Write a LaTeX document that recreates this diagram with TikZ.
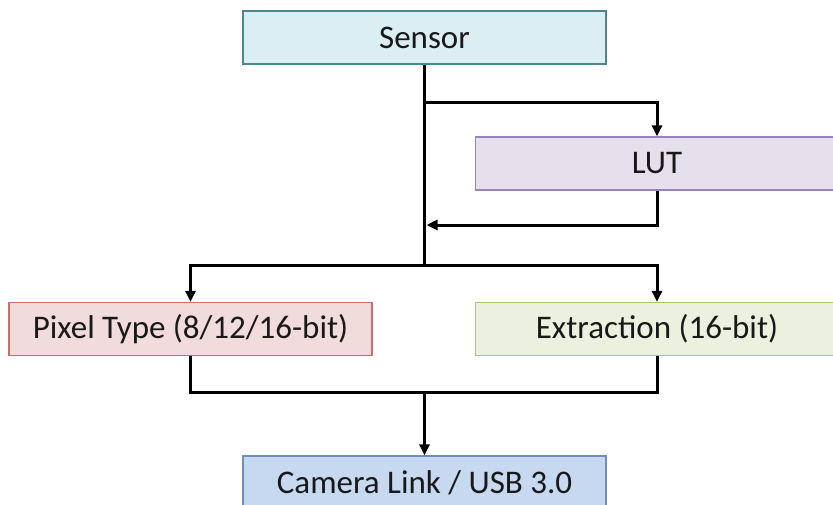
\documentclass[tikz,border=0pt]{standalone}
\usepackage{fontspec}
\setmainfont{Carlito}
\usetikzlibrary{arrows.meta}
\definecolor{senF}{HTML}{DAEEF3}\definecolor{senD}{HTML}{4F8494}
\definecolor{lutF}{HTML}{E5E0EC}\definecolor{lutD}{HTML}{9A83B8}
\definecolor{pixF}{HTML}{F2DCDB}\definecolor{pixD}{HTML}{CF6A67}
\definecolor{extF}{HTML}{EBF1DE}\definecolor{extD}{HTML}{A9C77A}
\definecolor{camF}{HTML}{C6D9F1}\definecolor{camD}{HTML}{6F8FB8}
\tikzset{
  blk/.style={draw, line width=1.2pt, minimum width=363pt, minimum height=53pt, inner sep=0pt,
    font=\fontsize{33}{38}\selectfont, text=black!90},
  conn/.style={line width=3pt, line join=miter},
  arr/.style={conn, -{Triangle[length=11pt,width=10pt]}}
}
\begin{document}
\begin{tikzpicture}[x=1pt,y=-1pt]
\path[use as bounding box, clip] (0,0) rectangle (833,504);
\fill[white] (0,0) rectangle (833,504);
\node[blk, fill=senF, draw=senD] (sensor) at (424.5,37.5) {Sensor};
\node[blk, fill=lutF, draw=lutD] (lut) at (657,163.5) {LUT};
\node[blk, fill=pixF, draw=pixD] (pixel) at (190.5,329) {Pixel Type (8/12/16-bit)};
\node[blk, fill=extF, draw=extD] (extr) at (657,329) {Extraction (16-bit)};
\node[blk, fill=camF, draw=camD] (cam) at (424.5,482.5) {Camera Link / USB 3.0};
\coordinate (b1) at (424.5,102);
\coordinate (m1) at (426.5,225);
\coordinate (j2) at (424.5,265);
\coordinate (j3) at (424.5,392);
\draw[conn] (sensor.south) -- (j2);
\draw[arr] (b1) -| (lut.north);
\draw[arr] (lut.south) |- (m1);
\draw[arr] (j2) -| (pixel.north);
\draw[arr] (j2) -| (extr.north);
\draw[conn] (pixel.south) |- (j3) -| (extr.south);
\draw[arr] (j3) -- (cam.north);
\end{tikzpicture}
\end{document}
